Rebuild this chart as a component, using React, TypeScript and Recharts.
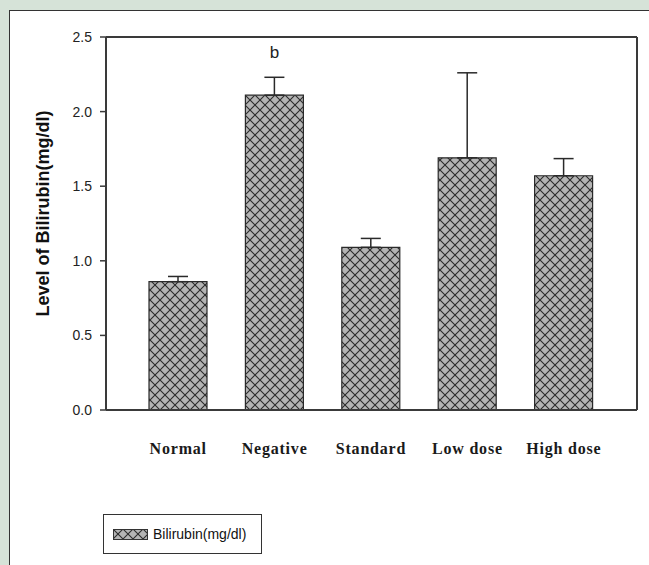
import React from 'react';
import { BarChart, Bar, XAxis, YAxis, ErrorBar, LabelList, Legend } from 'recharts';

const categories = ['Normal', 'Negative', 'Standard', 'Low dose', 'High dose'];
const bilirubin = [0.86, 2.11, 1.09, 1.69, 1.57];
const upperError = [0.035, 0.12, 0.06, 0.57, 0.115];
const notes = ['', 'b', '', '', ''];
const yTicks = [0, 0.5, 1.0, 1.5, 2.0, 2.5];

const data = categories.map((c, i) => ({
  name: c,
  value: bilirubin[i],
  err: [0, upperError[i]],
  note: notes[i],
}));

const FRAME = '#3a3a3a';

const renderNote = (props: any) => {
  const { x, y, width, value } = props;
  if (!value) return null;
  return (
    <text x={x + width / 2} y={y - 37} textAnchor="middle" fontFamily="Liberation Sans, Arial, sans-serif" fontSize={17} fill="#222">
      {value}
    </text>
  );
};

const XTick = (props: any) => {
  const { x, y, payload } = props;
  return (
    <text x={x} y={y + 36} textAnchor="middle" fontFamily="Liberation Serif, Times New Roman, serif" fontWeight="bold" fontSize={16} letterSpacing={0.8} fill="#1a1a1a">
      {payload.value}
    </text>
  );
};

const YLabel = (props: any) => {
  const vb = props.viewBox || { x: 0, y: 0, width: 0, height: 0 };
  const cx = 43;
  const cy = vb.y + vb.height / 2 - 10;
  return (
    <text x={cx} y={cy} transform={`rotate(-90, ${cx}, ${cy})`} textAnchor="middle" dominantBaseline="central" fontFamily="Liberation Sans, Arial, sans-serif" fontWeight="bold" fontSize={18} fill="#111">
      Level of Bilirubin(mg/dl)
    </text>
  );
};

const LegendBox = () => (
  <div style={{ width: 159, height: 40, boxSizing: 'border-box', border: '1.5px solid #333', background: '#fff', display: 'flex', alignItems: 'center', paddingLeft: 9 }}>
    <svg width={35} height={11} style={{ display: 'block' }}>
      <rect x={0.5} y={0.5} width={34} height={10} fill="url(#xhatch)" stroke="#333" strokeWidth={1} />
    </svg>
    <span style={{ marginLeft: 5, fontFamily: 'Liberation Sans, Arial, sans-serif', fontSize: 14, color: '#111' }}>Bilirubin(mg/dl)</span>
  </div>
);

export default function App() {
  return (
    <div style={{ position: 'absolute', left: 0, top: 0, width: 649, height: 565, background: '#d6e3d8', overflow: 'hidden' }}>
      <div style={{ position: 'absolute', left: 9, top: 10, width: 660, height: 580, background: '#fff', borderTop: '1.5px solid #333', borderLeft: '1.5px solid #333' }} />
      <svg width={0} height={0} style={{ position: 'absolute' }}>
        <defs>
          <pattern id="xhatch" patternUnits="userSpaceOnUse" width={10} height={10}>
            <rect x={0} y={0} width={10} height={10} fill="#b4b4b4" />
            <path d="M0,0 L10,10 M10,0 L0,10" stroke="#2b2b2b" strokeWidth={1.1} />
          </pattern>
        </defs>
      </svg>
      <div style={{ position: 'absolute', left: 0, top: 0 }}>
        <BarChart width={649} height={565} data={data} margin={{ top: 36, right: 11, bottom: 85, left: 0 }}>
          <XAxis
            dataKey="name"
            axisLine={{ stroke: FRAME, strokeWidth: 2 }}
            tickLine={false}
            tick={<XTick />}
            height={30}
            padding={{ left: 24, right: 25 }}
            interval={0}
          />
          <XAxis xAxisId="top" dataKey="name" orientation="top" tick={false} tickLine={false} height={1} axisLine={{ stroke: FRAME, strokeWidth: 2 }} padding={{ left: 24, right: 25 }} />
          <YAxis
            domain={[0, 2.5]}
            ticks={yTicks}
            tickFormatter={(v: number) => v.toFixed(1)}
            axisLine={{ stroke: FRAME, strokeWidth: 2 }}
            tickLine={{ stroke: FRAME, strokeWidth: 1.5 }}
            tickSize={6}
            tickMargin={8}
            width={106}
            tick={{ fontFamily: 'Liberation Sans, Arial, sans-serif', fontSize: 14, fill: '#222' }}
            label={<YLabel />}
          />
          <YAxis yAxisId="right" orientation="right" domain={[0, 2.5]} tick={false} tickLine={false} width={1} axisLine={{ stroke: FRAME, strokeWidth: 2 }} />
          <Legend
            layout="horizontal"
            verticalAlign="bottom"
            content={<LegendBox />}
            wrapperStyle={{ position: 'absolute', left: 103, top: 514, width: 159, height: 40, bottom: 'auto' }}
          />
          <Bar dataKey="value" name="Bilirubin(mg/dl)" barSize={58} fill="url(#xhatch)" stroke="#2a2a2a" strokeWidth={1.2} isAnimationActive={false}>
            <ErrorBar dataKey="err" width={10} stroke="#2a2a2a" strokeWidth={1.5} direction="y" />
            <LabelList dataKey="note" content={renderNote} />
          </Bar>
        </BarChart>
      </div>
    </div>
  );
}
